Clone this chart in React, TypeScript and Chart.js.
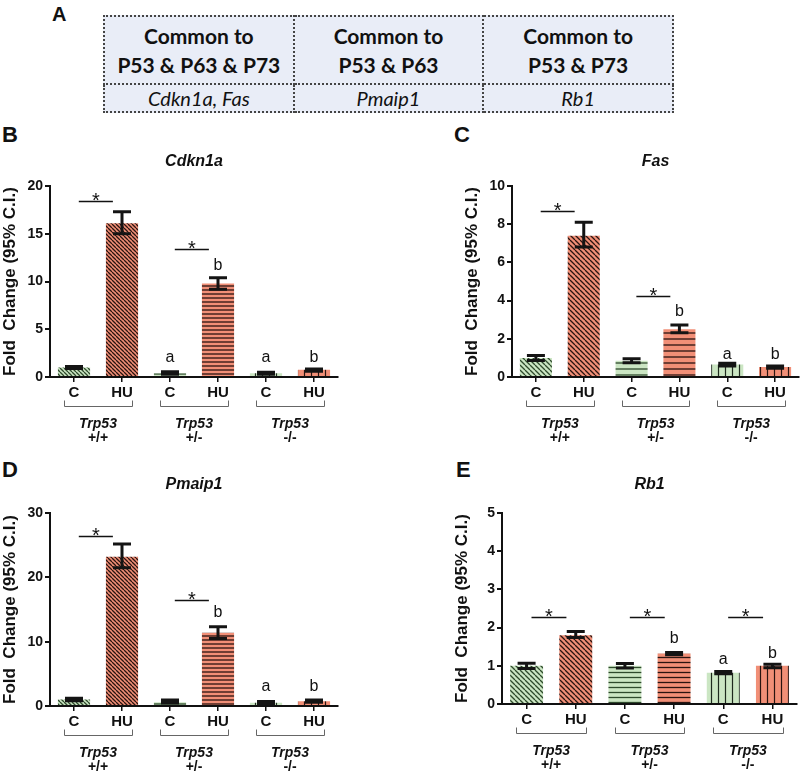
import React, { useEffect, useRef } from "react";
import { Chart, registerables } from "chart.js";
Chart.register(...registerables);

// ---------- data ----------
const treatments = ["C", "HU", "C", "HU", "C", "HU"];
const genotypes = ["+/+", "+/-", "-/-"];
const genotypeGene = "Trp53";
const yAxisTitle = "Fold  Change (95% C.I.)";

const tableHeaders = ["Common to\nP53 & P63 & P73", "Common to\nP53 & P63", "Common to\nP53 & P73"];
const tableGenes = ["Cdkn1a, Fas", "Pmaip1", "Rb1"];

const cdkn1aMean = [1.0, 16.1, 0.4, 9.8, 0.4, 0.75];
const cdkn1aLow = [0.9, 15.0, 0.3, 9.2, 0.3, 0.6];
const cdkn1aHigh = [1.1, 17.3, 0.55, 10.4, 0.5, 0.85];
const cdkn1aStar = [18.4, 13.4, null];
const cdkn1aLetters = ["", "", "a", "b", "a", "b"];
const cdkn1aLetterY = [0, 0, 2.0, 11.65, 2.0, 2.0];
const cdkn1aTicks = [0, 5, 10, 15, 20];

const fasMean = [1.0, 7.4, 0.85, 2.5, 0.65, 0.52];
const fasLow = [0.87, 6.8, 0.75, 2.32, 0.58, 0.46];
const fasHigh = [1.12, 8.1, 0.95, 2.72, 0.72, 0.58];
const fasStar = [8.7, 4.26, null];
const fasLetters = ["", "", "", "b", "a", "b"];
const fasLetterY = [0, 0, 0, 3.42, 1.18, 1.18];
const fasTicks = [0, 2, 4, 6, 8, 10];

const pmaip1Mean = [1.0, 23.2, 0.6, 11.4, 0.5, 0.75];
const pmaip1Low = [0.8, 21.5, 0.45, 10.5, 0.4, 0.6];
const pmaip1High = [1.2, 25.2, 0.95, 12.3, 0.7, 0.95];
const pmaip1Star = [26.5, 16.5, null];
const pmaip1Letters = ["", "", "", "b", "a", "b"];
const pmaip1LetterY = [0, 0, 0, 14.5, 3.0, 3.0];
const pmaip1Ticks = [0, 10, 20, 30];

const rb1Mean = [1.0, 1.8, 1.0, 1.32, 0.82, 1.0];
const rb1Low = [0.93, 1.74, 0.94, 1.29, 0.79, 0.95];
const rb1High = [1.07, 1.9, 1.06, 1.35, 0.85, 1.04];
const rb1Star = [2.27, 2.27, 2.27];
const rb1Letters = ["", "", "", "b", "a", "b"];
const rb1LetterY = [0, 0, 0, 1.7, 1.17, 1.33];
const rb1Ticks = [0, 1, 2, 3, 4, 5];

// ---------- styles ----------
const FONT = '"Liberation Sans", Arial, sans-serif';
const GREEN_FILL = "#cbe6c3";
const GREEN_LINE = "#2e4a2c";
const SALMON_FILL = "#f18f77";
const SALMON_LINE = "#2a1410";

function makePattern(fill: string, line: string, kind: string, s: number, lw: number) {
  const c = document.createElement("canvas");
  c.width = s;
  c.height = s;
  const g = c.getContext("2d")!;
  g.fillStyle = fill;
  g.fillRect(0, 0, s, s);
  g.strokeStyle = line;
  g.lineWidth = lw;
  g.beginPath();
  if (kind === "diag") {
    for (let k = -1; k <= 1; k++) {
      g.moveTo(k * s, 0);
      g.lineTo(k * s + s, s);
    }
  } else if (kind === "horiz") {
    g.moveTo(0, s / 2);
    g.lineTo(s, s / 2);
  } else {
    g.moveTo(s / 2, 0);
    g.lineTo(s / 2, s);
  }
  g.stroke();
  return g.createPattern(c, "repeat")!;
}

type PanelDef = {
  title: string;
  mean: number[];
  low: number[];
  high: number[];
  star: (number | null)[];
  letters: string[];
  letterY: number[];
  ticks: number[];
  canvasLeft: number;
  canvasTop: number;
  canvasW: number;
  canvasH: number;
  areaLeft: number;
  areaRight: number;
  areaTop: number;
  areaBottom: number;
  titleGap: number;
  diag: number;
  horiz: number;
  vert: number;
};

const panels: PanelDef[] = [
  {
    title: "Cdkn1a", mean: cdkn1aMean, low: cdkn1aLow, high: cdkn1aHigh, star: cdkn1aStar,
    letters: cdkn1aLetters, letterY: cdkn1aLetterY, ticks: cdkn1aTicks,
    canvasLeft: 0, canvasTop: 120, canvasW: 400, canvasH: 335,
    areaLeft: 50, areaRight: 338, areaTop: 186, areaBottom: 377, titleGap: 24,
    diag: 4, horiz: 4, vert: 7,
  },
  {
    title: "Fas", mean: fasMean, low: fasLow, high: fasHigh, star: fasStar,
    letters: fasLetters, letterY: fasLetterY, ticks: fasTicks,
    canvasLeft: 400, canvasTop: 120, canvasW: 400, canvasH: 335,
    areaLeft: 512, areaRight: 799, areaTop: 186, areaBottom: 377, titleGap: 24,
    diag: 5, horiz: 6, vert: 7,
  },
  {
    title: "Pmaip1", mean: pmaip1Mean, low: pmaip1Low, high: pmaip1High, star: pmaip1Star,
    letters: pmaip1Letters, letterY: pmaip1LetterY, ticks: pmaip1Ticks,
    canvasLeft: 0, canvasTop: 450, canvasW: 400, canvasH: 325,
    areaLeft: 50, areaRight: 338, areaTop: 513, areaBottom: 706, titleGap: 28,
    diag: 4, horiz: 4, vert: 7,
  },
  {
    title: "Rb1", mean: rb1Mean, low: rb1Low, high: rb1High, star: rb1Star,
    letters: rb1Letters, letterY: rb1LetterY, ticks: rb1Ticks,
    canvasLeft: 400, canvasTop: 450, canvasW: 400, canvasH: 325,
    areaLeft: 502, areaRight: 797, areaTop: 513, areaBottom: 704, titleGap: 28,
    diag: 5, horiz: 5, vert: 7,
  },
];

function makeDecor(p: PanelDef) {
  return {
    id: "panelDecor",
    afterDatasetsDraw(chart: any) {
      const { ctx } = chart;
      const x = chart.scales.x;
      const y = chart.scales.y;
      const cw = x.width / treatments.length;
      ctx.save();
      // error bars
      ctx.strokeStyle = "#141414";
      ctx.lineWidth = 3;
      p.mean.forEach((_, i) => {
        const cx = x.getPixelForValue(i);
        const yl = y.getPixelForValue(p.low[i]);
        const yh = y.getPixelForValue(p.high[i]);
        ctx.beginPath();
        ctx.moveTo(cx, yl);
        ctx.lineTo(cx, yh);
        ctx.moveTo(cx - 9, yl);
        ctx.lineTo(cx + 9, yl);
        ctx.moveTo(cx - 9, yh);
        ctx.lineTo(cx + 9, yh);
        ctx.stroke();
      });
      // significance lines and stars
      ctx.fillStyle = "#111";
      ctx.textAlign = "center";
      p.star.forEach((sv, g) => {
        if (sv === null) return;
        const x0 = x.getPixelForValue(2 * g) + cw * 0.1;
        const x1 = x.getPixelForValue(2 * g + 1) - cw * 0.19;
        const yy = Math.round(y.getPixelForValue(sv)) + 0.5;
        ctx.strokeStyle = "#111";
        ctx.lineWidth = 1.5;
        ctx.beginPath();
        ctx.moveTo(x0, yy);
        ctx.lineTo(x1, yy);
        ctx.stroke();
        ctx.font = `20px ${FONT}`;
        ctx.textBaseline = "alphabetic";
        ctx.fillText("*", (x0 + x1) / 2, yy + 5);
      });
      // letters
      ctx.font = `16px ${FONT}`;
      ctx.textBaseline = "middle";
      p.letters.forEach((t, i) => {
        if (!t) return;
        ctx.fillText(t, x.getPixelForValue(i), y.getPixelForValue(p.letterY[i]));
      });
      ctx.restore();
    },
    afterDraw(chart: any) {
      const { ctx, chartArea: a } = chart;
      const x = chart.scales.x;
      const cw = x.width / treatments.length;
      ctx.save();
      ctx.fillStyle = "#111";
      ctx.textAlign = "center";
      ctx.textBaseline = "middle";
      // title
      ctx.font = `italic bold 16px ${FONT}`;
      ctx.fillText(p.title, (a.left + a.right) / 2, a.top - p.titleGap);
      // y-axis title
      ctx.save();
      ctx.translate(a.left - 40, (a.top + a.bottom) / 2);
      ctx.rotate(-Math.PI / 2);
      ctx.font = `bold 17px ${FONT}`;
      ctx.fillText(yAxisTitle, 0, 0);
      ctx.restore();
      // brackets and genotype labels
      genotypes.forEach((gt, k) => {
        const cx = (x.getPixelForValue(2 * k) + x.getPixelForValue(2 * k + 1)) / 2;
        const half = cw * 0.71;
        const yb = a.bottom + 29.5;
        const xl = Math.round(cx - half) + 0.5;
        const xr = Math.round(cx + half) + 0.5;
        ctx.strokeStyle = "#666";
        ctx.lineWidth = 1;
        ctx.beginPath();
        ctx.moveTo(xl, yb - 6);
        ctx.lineTo(xl, yb);
        ctx.lineTo(xr, yb);
        ctx.lineTo(xr, yb - 6);
        ctx.stroke();
        ctx.font = `italic bold 14px ${FONT}`;
        ctx.fillText(genotypeGene, cx, a.bottom + 47);
        ctx.font = `bold 14px ${FONT}`;
        ctx.fillText(gt, cx, a.bottom + 61);
      });
      ctx.restore();
    },
  };
}

function Panel({ p }: { p: PanelDef }) {
  const ref = useRef<HTMLCanvasElement>(null);
  useEffect(() => {
    const patterns = [
      makePattern(GREEN_FILL, GREEN_LINE, "diag", p.diag, 1.3),
      makePattern(SALMON_FILL, SALMON_LINE, "diag", p.diag, 1.3),
      makePattern(GREEN_FILL, GREEN_LINE, "horiz", p.horiz, 1.3),
      makePattern(SALMON_FILL, SALMON_LINE, "horiz", p.horiz, 1.3),
      makePattern(GREEN_FILL, "#1e2a1e", "vert", p.vert, 1.2),
      makePattern(SALMON_FILL, SALMON_LINE, "vert", p.vert, 1.2),
    ];
    const yAxisW = p.areaLeft - p.canvasLeft;
    const xAxisH = 30;
    const chart = new Chart(ref.current!, {
      type: "bar",
      data: {
        labels: treatments,
        datasets: [
          {
            data: p.mean,
            backgroundColor: patterns as any,
            borderWidth: 0,
            barPercentage: 0.67,
            categoryPercentage: 1,
          },
        ],
      },
      options: {
        responsive: false,
        animation: false,
        devicePixelRatio: 1,
        layout: {
          padding: {
            left: 0,
            top: p.areaTop - p.canvasTop,
            right: p.canvasLeft + p.canvasW - p.areaRight,
            bottom: p.canvasTop + p.canvasH - p.areaBottom - xAxisH,
          },
        },
        plugins: {
          legend: { display: false },
          tooltip: { enabled: false },
          title: { display: false },
        },
        scales: {
          x: {
            grid: {
              drawOnChartArea: false,
              drawTicks: true,
              tickLength: 5,
              color: "#111",
              lineWidth: 1.5,
              offset: false,
            },
            border: { display: true, color: "#111", width: 2 },
            ticks: {
              font: { family: FONT, size: 15, weight: "bold" },
              color: "#111",
              padding: 2,
              maxRotation: 0,
            },
            afterFit: (s: any) => {
              s.height = xAxisH;
            },
          },
          y: {
            min: p.ticks[0],
            max: p.ticks[p.ticks.length - 1],
            afterBuildTicks: (s: any) => {
              s.ticks = p.ticks.map((v) => ({ value: v }));
            },
            ticks: {
              font: { family: FONT, size: 14, weight: "bold" },
              color: "#111",
              padding: 2,
            },
            grid: {
              drawOnChartArea: false,
              drawTicks: true,
              tickLength: 5,
              color: "#111",
              lineWidth: 2,
            },
            border: { display: true, color: "#111", width: 2 },
            afterFit: (s: any) => {
              s.width = yAxisW;
            },
          },
        },
      } as any,
      plugins: [makeDecor(p)],
    });
    return () => chart.destroy();
  }, []);
  return (
    <canvas
      ref={ref}
      width={p.canvasW}
      height={p.canvasH}
      style={{ position: "absolute", left: p.canvasLeft, top: p.canvasTop, width: p.canvasW, height: p.canvasH }}
    />
  );
}

const panelLetters = [
  { t: "A", left: 52, top: 4, size: 20 },
  { t: "B", left: 2, top: 124, size: 22 },
  { t: "C", left: 454, top: 124, size: 22 },
  { t: "D", left: 2, top: 459, size: 22 },
  { t: "E", left: 456, top: 459, size: 22 },
];

export default function App() {
  const border = "2px dotted #444";
  const cell: React.CSSProperties = {
    border,
    textAlign: "center",
    verticalAlign: "middle",
    padding: 0,
    color: "#111",
    whiteSpace: "pre-line",
  };
  return (
    <div style={{ position: "absolute", left: 0, top: 0, width: 800, height: 775, background: "#fff", overflow: "hidden" }}>
      {panelLetters.map((l) => (
        <div
          key={l.t}
          style={{
            position: "absolute",
            left: l.left,
            top: l.top,
            fontFamily: FONT,
            fontWeight: "bold",
            fontSize: l.size,
            lineHeight: `${l.size}px`,
            color: "#111",
          }}
        >
          {l.t}
        </div>
      ))}
      <table
        style={{
          position: "absolute",
          left: 103,
          top: 15,
          width: 571,
          borderCollapse: "collapse",
          tableLayout: "fixed",
          background: "#e9edf7",
          fontFamily: "Lato, sans-serif",
        }}
      >
        <tbody>
          <tr style={{ height: 68 }}>
            {tableHeaders.map((h) => (
              <td key={h} style={{ ...cell, fontWeight: "bold", fontSize: 21, lineHeight: "29px" }}>
                {h}
              </td>
            ))}
          </tr>
          <tr style={{ height: 28 }}>
            {tableGenes.map((g) => (
              <td key={g} style={{ ...cell, fontStyle: "italic", fontSize: 20, lineHeight: "24px" }}>
                {g}
              </td>
            ))}
          </tr>
        </tbody>
      </table>
      {panels.map((p) => (
        <Panel key={p.title} p={p} />
      ))}
    </div>
  );
}
